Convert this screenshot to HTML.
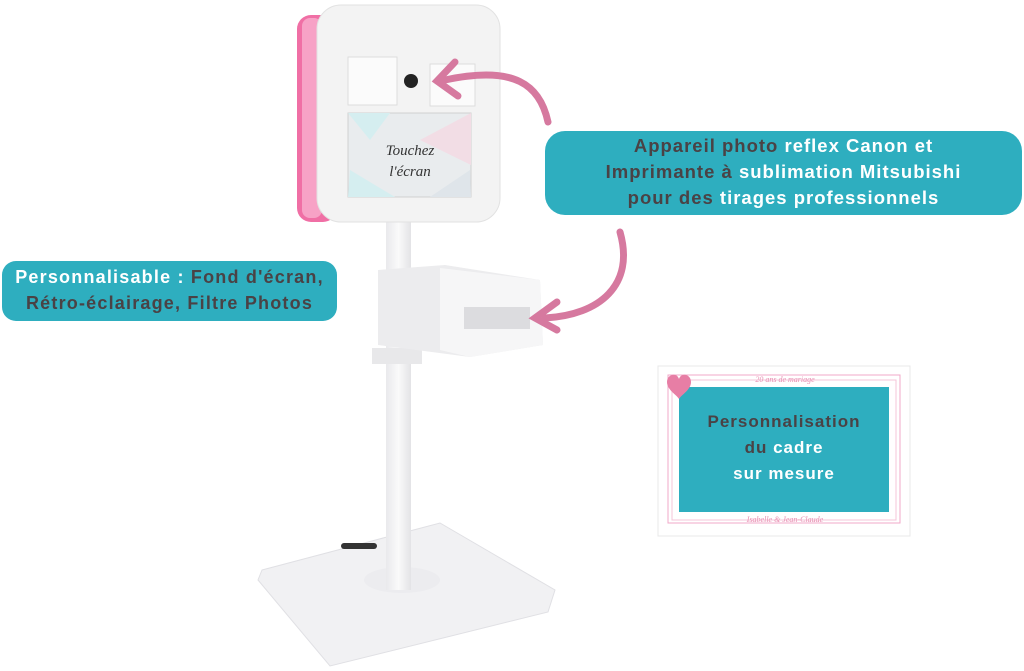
<!DOCTYPE html>
<html><head><meta charset="utf-8"><style>
body{margin:0;width:1024px;height:671px;background:#fff;position:relative;overflow:hidden;font-family:"Liberation Sans",sans-serif}
.c{position:absolute;background:#2eaebf;font-weight:bold;color:#4a4245;text-align:center;letter-spacing:1px;white-space:nowrap}
.w{color:#fff}
</style></head><body>
<svg width="1024" height="671" style="position:absolute;left:0;top:0">
<defs>
<linearGradient id="pl" x1="0" x2="1"><stop offset="0" stop-color="#e9e9ec"/><stop offset=".5" stop-color="#fafafa"/><stop offset="1" stop-color="#e3e3e6"/></linearGradient>
</defs>
<polygon points="262,570 440,523 555,590 548,612 330,666 258,580" fill="#f1f1f3" stroke="#e0e0e4"/>
<rect x="341" y="543" width="36" height="6" rx="3" fill="#333"/>
<ellipse cx="402" cy="580" rx="38" ry="13" fill="#ececef"/>
<rect x="386" y="222" width="25" height="368" fill="url(#pl)"/>
<rect x="372" y="348" width="50" height="16" fill="#e8e8ea"/>
<polygon points="378,270 445,265 540,280 543,345 470,357 378,345" fill="#ececee"/>
<polygon points="440,268 540,280 543,345 470,357 440,350" fill="#f6f6f7"/>
<rect x="464" y="307" width="66" height="22" fill="#dcdcdf"/>
<rect x="297" y="15" width="40" height="207" rx="14" fill="#f06fa5"/>
<rect x="302" y="18" width="20" height="200" rx="8" fill="#f7a2c6"/>
<rect x="317" y="5" width="183" height="217" rx="24" fill="#f3f3f3" stroke="#e2e2e2"/>
<rect x="348" y="57" width="49" height="48" fill="#fbfbfb" stroke="#ddd"/>
<rect x="430" y="64" width="45" height="42" fill="#fbfbfb" stroke="#ddd"/>
<circle cx="411" cy="81" r="7" fill="#222"/>
<rect x="348" y="113" width="123" height="84" fill="#e9ecee" stroke="#d0d0d0"/>
<polygon points="348,113 390,113 370,140" fill="#d5eef0"/><polygon points="420,140 471,113 471,165" fill="#f2dde5"/><polygon points="350,170 395,197 348,197" fill="#d5eef0"/><polygon points="430,197 470,170 471,197" fill="#dfe5ea"/>
<text x="410" y="155" font-family="Liberation Serif,serif" font-style="italic" font-size="15" fill="#333" text-anchor="middle">Touchez</text>
<text x="410" y="176" font-family="Liberation Serif,serif" font-style="italic" font-size="15" fill="#333" text-anchor="middle">l'écran</text>
<g fill="none" stroke="#d6799f" stroke-width="7" stroke-linecap="round">
<path d="M548,122 C540,85 515,65 445,80"/>
<path d="M455,62 L437,81 L458,96"/>
<path d="M620,232 C635,285 600,315 545,318"/>
<path d="M557,302 L535,318 L557,330"/>
</g>
<rect x="658" y="366" width="252" height="170" fill="#fff" stroke="#e8e8ea"/>
<rect x="668" y="375" width="232" height="148" fill="none" stroke="#f1a8c8"/>
<rect x="672" y="380" width="224" height="140" fill="none" stroke="#f5c4d9"/>
<rect x="679" y="387" width="210" height="125" fill="#2eaebf"/>
<path d="M667,382 c0,-8 10,-10 12,-3 c2,-7 12,-5 12,3 c0,8 -10,13 -12,17 c-2,-4 -12,-9 -12,-17z" fill="#e77ea5"/>
<text x="785" y="382" font-family="Liberation Serif,serif" font-style="italic" font-size="8" fill="#e88fb2" text-anchor="middle">20 ans de mariage</text>
<text x="785" y="522" font-family="Liberation Serif,serif" font-style="italic" font-size="8" fill="#e88fb2" text-anchor="middle">Isabelle &amp; Jean-Claude</text>
</svg>
<div class="c" style="left:545px;top:131px;width:477px;height:84px;border-radius:20px;font-size:18.5px;line-height:26px;padding-top:2px;box-sizing:border-box">Appareil photo <span class="w">reflex Canon et</span><br>Imprimante à <span class="w">sublimation Mitsubishi</span><br>pour des <span class="w">tirages professionnels</span></div>
<div class="c" style="left:2px;top:261px;width:335px;height:60px;border-radius:14px;font-size:18px;line-height:26px;padding-top:3px;box-sizing:border-box;letter-spacing:1.2px"><span class="w">Personnalisable :</span> Fond d'écran,<br>Rétro-éclairage, Filtre Photos</div>
<div class="c" style="left:679px;top:409px;width:210px;background:none;font-size:17px;line-height:26px">Personnalisation<br>du <span class="w">cadre</span><br><span class="w">sur mesure</span></div>
</body></html>
